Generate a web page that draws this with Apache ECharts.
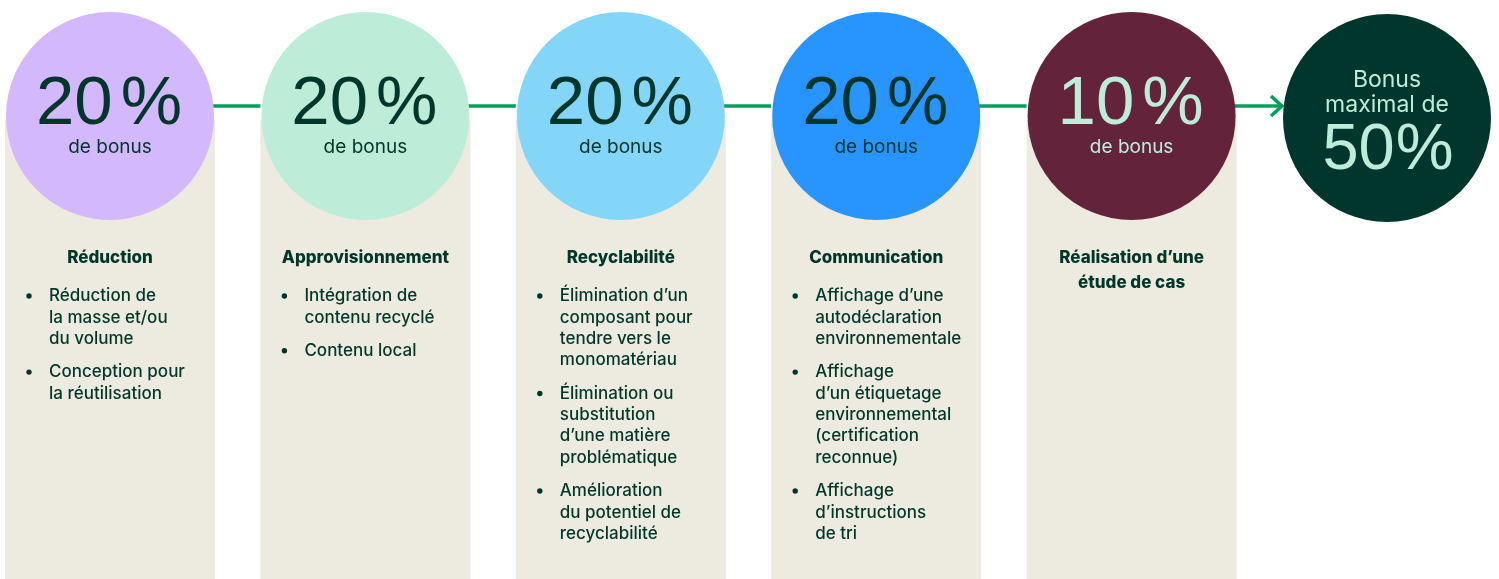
<!DOCTYPE html>
<html><head><meta charset="utf-8">
<script src="https://cdn.jsdelivr.net/npm/echarts@6/dist/echarts.min.js"></script>
<style>html,body{margin:0;padding:0;background:#fff}#c{width:1499px;height:579px}</style>
</head><body><div id="c"></div>
<script>
// ---- data ----
const categories = ['Réduction', 'Approvisionnement', 'Recyclabilité', 'Communication', 'Réalisation d’une\nétude de cas'];
const bonusValues = [20, 20, 20, 20, 10];
const bonusUnit = 'de bonus';
const totalLabel = ['Bonus', 'maximal de'];
const totalValue = 50;
const bullets = [
  [['Réduction de', 'la masse et/ou', 'du volume'], ['Conception pour', 'la réutilisation']],
  [['Intégration de', 'contenu recyclé'], ['Contenu local']],
  [['Élimination d’un', 'composant pour', 'tendre vers le', 'monomatériau'],
   ['Élimination ou', 'substitution', 'd’une matière', 'problématique'],
   ['Amélioration', 'du potentiel de', 'recyclabilité']],
  [['Affichage d’une', 'autodéclaration', 'environnementale'],
   ['Affichage', 'd’un étiquetage', 'environnemental', '(certification', 'reconnue)'],
   ['Affichage', 'd’instructions', 'de tri']],
  []
];
// ---- styles ----
const circleColors = ['#d3b8fd', '#bdecd9', '#84d6f9', '#2895ff', '#63233a', '#01362c'];
const numColors = ['#01372b', '#01372b', '#01372b', '#01372b', '#bdecd9', '#bdecd9'];
const dark = '#01372b';
const panelColor = '#edeae0';
const green = '#00a05c';
const FONT = 'Inter, "Noto Sans", sans-serif';
const NUMFONT = '"Liberation Sans", Arial, sans-serif';

const items = bonusValues.map((v, i) => [i, v]).concat([[bonusValues.length, totalValue]]);
const last = bonusValues.length;

function renderItem(params, api) {
  const i = api.value(0);
  const v = api.value(1);
  const isTotal = i === last;
  const c = api.coord([i, isTotal ? 118 : 116]);
  const cx = c[0], cy = c[1];
  const step = api.size([1, 0])[0];
  const R = 104;
  const Y = y => api.coord([i, y])[1];
  const ch = [];
  if (!isTotal) {
    ch.push({type: 'rect', shape: {x: cx - 105, y: Y(120), width: 210, height: 470}, style: {fill: panelColor}});
    const ly = Y(106);
    const x1 = cx + R - 2, x2 = cx + step - R - 1;
    ch.push({type: 'line', shape: {x1: x1, y1: ly, x2: x2, y2: ly}, style: {stroke: green, lineWidth: 3.5}});
    if (i === last - 1) {
      ch.push({type: 'polyline', shape: {points: [[x2 - 11, ly - 10], [x2, ly], [x2 - 11, ly + 10]]}, style: {stroke: green, lineWidth: 3.5, fill: null}});
    }
  }
  ch.push({type: 'circle', shape: {cx: cx, cy: cy, r: R}, style: {fill: circleColors[i]}});
  const col = numColors[i];
  if (!isTotal) {
    ch.push({type: 'text', style: {text: '{n|' + v + '}{p|%}', x: cx - 1, y: Y(105), fill: col,
      align: 'center', verticalAlign: 'middle',
      rich: {n: {font: '400 69px ' + NUMFONT, fill: col},
             p: {font: '400 69px ' + NUMFONT, fill: col, padding: [0, 0, 0, 8]}}}});
    ch.push({type: 'text', style: {text: bonusUnit, x: cx, y: Y(147), fill: col,
      font: '400 19px ' + FONT, align: 'center', verticalAlign: 'middle'}});
    // title
    const tl = categories[i].split('\n');
    tl.forEach((t, k) => {
      ch.push({type: 'text', style: {text: t, x: cx, y: Y(258 + k * 25), fill: dark,
        font: '800 17px ' + FONT, align: 'center', verticalAlign: 'middle'}});
    });
    // bullets
    let y = 296;
    const left = cx - 105;
    bullets[i].forEach(par => {
      ch.push({type: 'circle', shape: {cx: left + 24, cy: Y(y), r: 2.7}, style: {fill: dark}});
      par.forEach(line => {
        ch.push({type: 'text', style: {text: line, x: left + 44, y: Y(y), fill: dark,
          font: '500 17px ' + FONT, align: 'left', verticalAlign: 'middle'}});
        y += 21.4;
      });
      y += 11.9;
    });
  } else {
    totalLabel.forEach((t, k) => {
      ch.push({type: 'text', style: {text: t, x: cx, y: Y(80 + k * 25), fill: col,
        font: '400 23px ' + FONT, align: 'center', verticalAlign: 'middle'}});
    });
    ch.push({type: 'text', style: {text: '{n|' + v + '}{p|%}', x: cx + 1, y: Y(151), fill: col,
      align: 'center', verticalAlign: 'middle',
      rich: {n: {font: '400 65px ' + NUMFONT, fill: col},
             p: {font: '400 65px ' + NUMFONT, fill: col, padding: [0, 0, 0, 1]}}}});
  }
  return {type: 'group', children: ch};
}

const chart = echarts.init(document.getElementById('c'), null, {renderer: 'canvas'});
chart.setOption({
  animation: false,
  backgroundColor: '#ffffff',
  grid: {left: 0, right: 0, top: 0, bottom: 0},
  xAxis: {type: 'value', min: -0.4307, max: 5.4385, show: false},
  yAxis: {type: 'value', min: 0, max: 579, inverse: true, show: false},
  series: [{type: 'custom', renderItem: renderItem, data: items, clip: false}]
});
</script></body></html>
